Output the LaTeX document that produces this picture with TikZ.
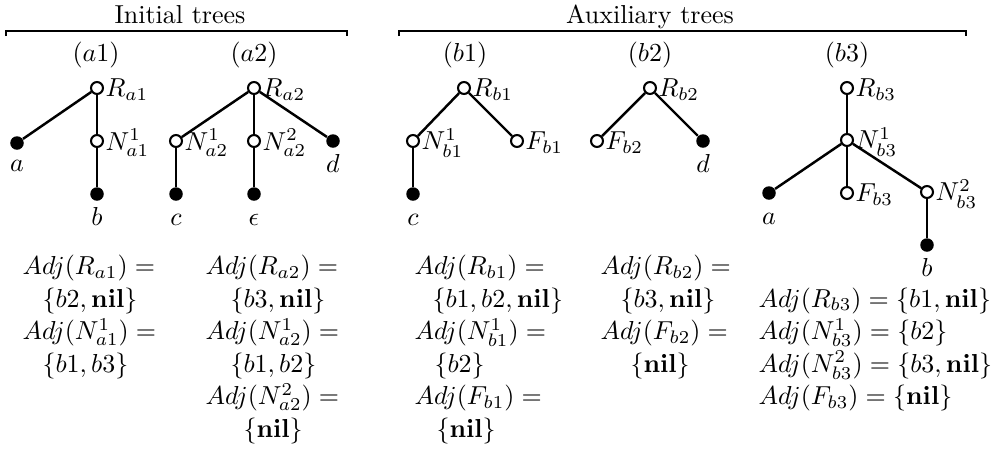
\documentclass[tikz,border=0pt]{standalone}
\begin{document}
\begin{tikzpicture}[x=0.385pt,y=-0.385pt,
  open/.style={circle,draw,line width=0.8pt,fill=white,minimum size=4.6pt,inner sep=0pt},
  leaf/.style={circle,fill=black,minimum size=5.2pt,inner sep=0pt},
  edge/.style={line width=0.95pt},
  lab/.style={anchor=west,inner sep=0.4pt,yshift=-0.7pt},
  leaflab/.style={anchor=base,inner sep=0pt},
  adj/.style={anchor=base west,inner sep=0pt},
  ttl/.style={anchor=base,inner sep=0pt},
  brk/.style={line width=0.7pt}]
\useasboundingbox (0,0) rectangle (1002,449);

% titles and brackets
\node[ttl] (tinit) at (180,23) {Initial trees};
\node[ttl] (taux) at (650,23) {Auxiliary trees};
\coordinate (bl1) at (6,36); \coordinate (br1) at (347,36);
\coordinate (bl2) at (399,36); \coordinate (br2) at (966,36);
\draw[brk] (bl1) -- ++(0,-5) -| (br1);
\draw[brk] (bl2) -- ++(0,-5) -| (br2);

% tree names
\node[ttl] (na1) at (96,61) {$(a1)$};
\node[ttl] (na2) at (254,61) {$(a2)$};
\node[ttl] (nb1) at (465,61) {$(b1)$};
\node[ttl] (nb2) at (650,61) {$(b2)$};
\node[ttl] (nb3) at (847,61) {$(b3)$};

% tree a1
\node[open] (Ra1) at (97,88) {};
\node[leaf] (a1a) at (17,143) {};
\node[open] (Na1) at (97,141) {};
\node[leaf] (a1b) at (97,194) {};
\draw[edge] (Ra1) -- (a1a);
\draw[edge] (Ra1) -- (Na1);
\draw[edge] (Na1) -- (a1b);
\node[lab] (lRa1) at (Ra1.east) {$R_{a1}$};
\node[lab] (lNa1) at (Na1.east) {$N^1_{a1}$};
\node[leaflab] (la1a) at (17,171) {$a$};
\node[leaflab] (la1b) at (97,225) {$b$};

% tree a2
\node[open] (Ra2) at (254,88) {};
\node[open] (Na21) at (176,141) {};
\node[open] (Na22) at (254,141) {};
\node[leaf] (a2d) at (333,141) {};
\node[leaf] (a2c) at (176,194) {};
\node[leaf] (a2e) at (254,194) {};
\draw[edge] (Ra2) -- (Na21);
\draw[edge] (Ra2) -- (Na22);
\draw[edge] (Ra2) -- (a2d);
\draw[edge] (Na21) -- (a2c);
\draw[edge] (Na22) -- (a2e);
\node[lab] (lRa2) at (Ra2.east) {$R_{a2}$};
\node[lab] (lNa21) at (Na21.east) {$N^1_{a2}$};
\node[lab] (lNa22) at (Na22.east) {$N^2_{a2}$};
\node[leaflab] (la2d) at (333,172) {$d$};
\node[leaflab] (la2c) at (176,225) {$c$};
\node[leaflab] (la2e) at (254,225) {$\epsilon$};

% tree b1
\node[open] (Rb1) at (464,88) {};
\node[open] (Nb1) at (413,141) {};
\node[open] (Fb1) at (517,141) {};
\node[leaf] (b1c) at (413,194) {};
\draw[edge] (Rb1) -- (Nb1);
\draw[edge] (Rb1) -- (Fb1);
\draw[edge] (Nb1) -- (b1c);
\node[lab] (lRb1) at (Rb1.east) {$R_{b1}$};
\node[lab] (lNb1) at (Nb1.east) {$N^1_{b1}$};
\node[lab] (lFb1) at (Fb1.east) {$F_{b1}$};
\node[leaflab] (lb1c) at (413,225) {$c$};

% tree b2
\node[open] (Rb2) at (650,88) {};
\node[open] (Fb2) at (597,141) {};
\node[leaf] (b2d) at (703,141) {};
\draw[edge] (Rb2) -- (Fb2);
\draw[edge] (Rb2) -- (b2d);
\node[lab] (lRb2) at (Rb2.east) {$R_{b2}$};
\node[lab] (lFb2) at (Fb2.east) {$F_{b2}$};
\node[leaflab] (lb2d) at (703,172) {$d$};

% tree b3
\node[open] (Rb3) at (847,88) {};
\node[open] (Nb31) at (847,140) {};
\node[leaf] (b3a) at (769,193) {};
\node[open] (Fb3) at (847,193) {};
\node[open] (Nb32) at (927,192) {};
\node[leaf] (b3b) at (927,245) {};
\draw[edge] (Rb3) -- (Nb31);
\draw[edge] (Nb31) -- (b3a);
\draw[edge] (Nb31) -- (Fb3);
\draw[edge] (Nb31) -- (Nb32);
\draw[edge] (Nb32) -- (b3b);
\node[lab] (lRb3) at (Rb3.east) {$R_{b3}$};
\node[lab] (lNb31) at (Nb31.east) {$N^1_{b3}$};
\node[lab] (lFb3) at (Fb3.east) {$F_{b3}$};
\node[lab] (lNb32) at (Nb32.east) {$N^2_{b3}$};
\node[leaflab] (lb3a) at (769,224) {$a$};
\node[leaflab] (lb3b) at (927,276) {$b$};

% Adj sets, a1
\node[adj] (x1) at (22,274.5) {$Adj(R_{a1}) =$};
\node[adj] (x2) at (42,307) {$\{b2, \mathbf{nil}\}$};
\node[adj] (x3) at (22,339.5) {$Adj(N^1_{a1}) =$};
\node[adj] (x4) at (42,372) {$\{b1, b3\}$};
% a2
\node[adj] (y1) at (205,274.5) {$Adj(R_{a2}) =$};
\node[adj] (y2) at (230,307) {$\{b3, \mathbf{nil}\}$};
\node[adj] (y3) at (205,339.5) {$Adj(N^1_{a2}) =$};
\node[adj] (y4) at (230,372) {$\{b1, b2\}$};
\node[adj] (y5) at (205,404.5) {$Adj(N^2_{a2}) =$};
\node[adj] (y6) at (243,437) {$\{\mathbf{nil}\}$};
% b1
\node[adj] (z1) at (414,274.5) {$Adj(R_{b1}) =$};
\node[adj] (z2) at (432,307) {$\{b1, b2, \mathbf{nil}\}$};
\node[adj] (z3) at (414,339.5) {$Adj(N^1_{b1}) =$};
\node[adj] (z4) at (434,372) {$\{b2\}$};
\node[adj] (z5) at (414,404.5) {$Adj(F_{b1}) =$};
\node[adj] (z6) at (436,437) {$\{\mathbf{nil}\}$};
% b2
\node[adj] (w1) at (600,274.5) {$Adj(R_{b2}) =$};
\node[adj] (w2) at (620,307) {$\{b3, \mathbf{nil}\}$};
\node[adj] (w3) at (600,339.5) {$Adj(F_{b2}) =$};
\node[adj] (w4) at (630,372) {$\{\mathbf{nil}\}$};
% b3
\node[adj] (v1) at (758,307) {$Adj(R_{b3}) = \{b1, \mathbf{nil}\}$};
\node[adj] (v2) at (758,339.5) {$Adj(N^1_{b3}) = \{b2\}$};
\node[adj] (v3) at (758,372) {$Adj(N^2_{b3}) = \{b3, \mathbf{nil}\}$};
\node[adj] (v4) at (758,404.5) {$Adj(F_{b3}) = \{\mathbf{nil}\}$};
\end{tikzpicture}
\end{document}
